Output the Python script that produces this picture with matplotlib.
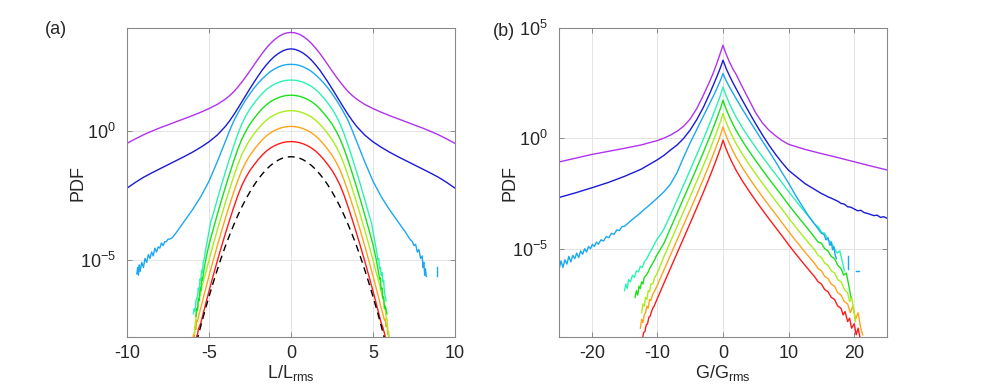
import matplotlib.pyplot as plt
import numpy as np

plt.rcParams['font.family'] = ['Liberation Sans', 'DejaVu Sans']
plt.rcParams['mathtext.fontset'] = 'custom'
plt.rcParams['mathtext.rm'] = 'Liberation Sans'
plt.rcParams['mathtext.it'] = 'Liberation Sans:italic'
plt.rcParams['font.size'] = 13

# colours, bottom curve (red) to top curve (purple)
colors = ["#ff1a1a", "#ffa31a", "#a8ee1a", "#1ae01a", "#2af2b4", "#1aa8f2", "#1a1ad9", "#b033ee"]

# ------------------------------------------------------------------ panel (a)
# all values are log10(PDF)

# shared core shape of the five lower curves (relative to their peak)
shapeA_x = np.arange(-5.5, 5.51, 0.25)
shapeA = [-7.05, -6.42, -5.81, -5.22, -4.65, -4.10, -3.57, -3.06, -2.57, -2.11, -1.71,
          -1.39, -1.12, -0.90, -0.70, -0.52, -0.37, -0.25, -0.16, -0.09, -0.04, -0.01,
          0.0,
          -0.01, -0.04, -0.09, -0.16, -0.25, -0.37, -0.52, -0.70, -0.90, -1.12, -1.39,
          -1.71, -2.11, -2.57, -3.06, -3.57, -4.10, -4.65, -5.22, -5.81, -6.42, -7.05]
# peak levels (curves shifted apart) and core extent of each
peakA = [-0.41, 0.18, 0.79, 1.39, 1.98]
coreA = [5.5, 5.5, 5.25, 5.0, 4.75]

# noisy ends of the five lower curves
tailA_left = [
    ([-5.8, -5.75, -5.7, -5.65, -5.6], [-8.3, -7.95, -7.9, -7.7, -7.62]),
    ([-5.97, -5.95, -5.9, -5.85, -5.8, -5.75, -5.7, -5.6], [-8.3, -7.9, -8.0, -7.6, -7.7, -7.35, -7.4, -7.1]),
    ([-5.9, -5.85, -5.8, -5.75, -5.7, -5.65, -5.6, -5.5, -5.4], [-7.9, -7.5, -7.3, -7.0, -6.95, -6.6, -6.55, -6.25, -5.95]),
    ([-5.8, -5.75, -5.7, -5.65, -5.6, -5.55, -5.5, -5.45, -5.4, -5.3, -5.2, -5.1],
     [-7.2, -6.9, -6.95, -6.5, -6.6, -6.1, -6.2, -5.7, -5.8, -5.35, -5.0, -4.7]),
    ([-5.95, -5.9, -5.85, -5.8, -5.7, -5.65, -5.6, -5.55, -5.5, -5.45, -5.4, -5.35, -5.3, -5.2, -5.1, -5.0, -4.9],
     [-7.1, -6.9, -7.0, -6.6, -6.4, -6.1, -6.2, -5.75, -5.8, -5.4, -5.5, -5.05, -5.0, -4.6, -4.25, -3.9, -3.55]),
]
tailA_right = [
    ([5.6, 5.65, 5.7, 5.75, 5.8], [-7.62, -7.75, -7.85, -8.0, -8.3]),
    ([5.6, 5.7, 5.75, 5.8, 5.85, 5.9, 5.95, 6.0], [-7.1, -7.35, -7.3, -7.6, -7.5, -7.9, -7.8, -8.3]),
    ([5.4, 5.5, 5.6, 5.65, 5.7, 5.75, 5.8, 5.85, 5.9, 5.95], [-5.95, -6.25, -6.5, -6.55, -6.85, -6.9, -7.2, -7.3, -7.7, -8.0]),
    ([5.1, 5.2, 5.3, 5.4, 5.45, 5.5, 5.55, 5.6, 5.65, 5.7, 5.75, 5.85],
     [-4.7, -5.0, -5.35, -5.75, -5.7, -6.15, -6.1, -6.5, -6.45, -6.9, -6.8, -7.1]),
    ([4.9, 5.0, 5.1, 5.2, 5.3, 5.35, 5.4, 5.45, 5.5, 5.55, 5.6, 5.65, 5.7, 5.8],
     [-3.55, -3.9, -4.25, -4.6, -5.0, -4.95, -5.35, -5.3, -5.6, -5.5, -5.85, -5.8, -6.3, -6.6]),
]

# Gaussian reference (dashed)
gaussA_x = np.arange(-5.75, 5.76, 0.25)
gaussA = [-8.18, -7.57, -6.98, -6.43, -5.90, -5.40, -4.92, -4.47, -4.05, -3.66, -3.29, -2.95,
          -2.64, -2.36, -2.10, -1.87, -1.67, -1.49, -1.34, -1.22, -1.12, -1.05, -1.01,
          -1.0,
          -1.01, -1.05, -1.12, -1.22, -1.34, -1.49, -1.67, -1.87, -2.10, -2.36, -2.64,
          -2.95, -3.29, -3.66, -4.05, -4.47, -4.92, -5.40, -5.90, -6.43, -6.98, -7.57, -8.18]

# wide curves of panel (a)
wideA_x = [-10, -9.5, -9, -8.5, -8, -7.5, -7, -6.5, -6, -5.5, -5, -4.5,
           -4, -3.75, -3.5, -3.25, -3, -2.75, -2.5, -2.25, -2, -1.75, -1.5, -1.25, -1, -0.75, -0.5, -0.25,
           0,
           0.25, 0.5, 0.75, 1, 1.25, 1.5, 1.75, 2, 2.25, 2.5, 2.75, 3, 3.25, 3.5, 3.75, 4,
           4.5, 5, 5.5, 6, 6.5, 7, 7.5, 8, 8.5, 9, 9.5, 10]
purpleA = [-0.48, -0.31, -0.15, -0.01, 0.12, 0.24, 0.36, 0.48, 0.60, 0.73, 0.87, 1.03,
           1.24, 1.37, 1.52, 1.70, 1.90, 2.11, 2.34, 2.57, 2.80, 3.02, 3.22, 3.40, 3.55, 3.67, 3.76, 3.81,
           3.83,
           3.81, 3.76, 3.67, 3.55, 3.40, 3.22, 3.02, 2.80, 2.57, 2.34, 2.11, 1.90, 1.70, 1.52, 1.37, 1.24,
           1.03, 0.87, 0.73, 0.60, 0.48, 0.36, 0.24, 0.12, -0.01, -0.15, -0.31, -0.48]
blueA = [-2.22, -2.00, -1.80, -1.63, -1.47, -1.31, -1.15, -0.99, -0.82, -0.63, -0.42, -0.16,
         0.18, 0.39, 0.62, 0.87, 1.13, 1.39, 1.65, 1.90, 2.14, 2.37, 2.57, 2.75, 2.90, 3.02, 3.11, 3.17,
         3.19,
         3.17, 3.11, 3.02, 2.90, 2.75, 2.57, 2.37, 2.14, 1.90, 1.65, 1.39, 1.13, 0.87, 0.62, 0.39, 0.18,
         -0.16, -0.42, -0.63, -0.82, -0.99, -1.15, -1.31, -1.47, -1.63, -1.80, -2.00, -2.22]

skyA_x = [-7, -6.5, -6, -5.5, -5, -4.5,
          -4, -3.75, -3.5, -3.25, -3, -2.75, -2.5, -2.25, -2, -1.75, -1.5, -1.25, -1, -0.75, -0.5, -0.25,
          0,
          0.25, 0.5, 0.75, 1, 1.25, 1.5, 1.75, 2, 2.25, 2.5, 2.75, 3, 3.25, 3.5, 3.75, 4,
          4.5, 5, 5.5, 6, 6.5, 7]
skyA = [-3.95, -3.50, -3.05, -2.55, -1.95, -1.20,
        -0.40, 0.0, 0.38, 0.68, 0.96, 1.22, 1.45, 1.67, 1.86, 2.03, 2.18, 2.31, 2.41, 2.49, 2.55, 2.58,
        2.59,
        2.58, 2.55, 2.49, 2.41, 2.31, 2.18, 2.03, 1.86, 1.67, 1.45, 1.22, 0.96, 0.68, 0.38, 0.0, -0.40,
        -1.20, -1.95, -2.55, -3.05, -3.50, -3.95]
skyA_left_x = [-9.4, -9.35, -9.3, -9.25, -9.2, -9.1, -9.0, -8.9, -8.8, -8.7, -8.6, -8.5,
               -8.4, -8.3, -8.2, -8.1, -8.0, -7.9, -7.8, -7.7, -7.6, -7.5, -7.4, -7.25]
skyA_left = [-5.55, -5.3, -5.6, -5.2, -5.45, -5.1, -5.3, -4.95, -5.1, -4.8, -4.95, -4.7,
             -4.85, -4.55, -4.7, -4.5, -4.55, -4.35, -4.45, -4.3, -4.3, -4.2, -4.2, -4.15]
skyA_right_x = [7.25, 7.4, 7.5, 7.6, 7.7, 7.8, 7.9, 8.0, 8.05, 8.1, 8.15, 8.2, 8.25]
skyA_right = [-4.2, -4.3, -4.45, -4.4, -4.7, -4.6, -4.95, -4.85, -5.3, -5.1, -5.6, -5.35, -5.65]
skyA_frag_x = [8.88, 8.88]
skyA_frag = [-5.3, -5.65]

# ------------------------------------------------------------------ panel (b)
# shared shape of the five lower curves (lowest, red, curve)
shapeB_x = [-12, -11.5, -11, -10, -9, -8, -7, -6, -5, -4, -3, -2, -1.5, -1, -0.5, -0.25,
            0, 0.25, 0.5, 1, 1.5, 2, 3, 4, 5, 6, 7, 8, 9, 10, 11, 12, 13, 14, 15]
shapeB = [-8.8, -8.3, -7.95, -7.25, -6.56, -5.88, -5.2, -4.52, -3.84, -3.15, -2.45, -1.72,
          -1.34, -0.95, -0.55, -0.33, -0.08, -0.30, -0.50, -0.85, -1.16, -1.45, -1.95, -2.40,
          -2.83, -3.24, -3.64, -4.03, -4.42, -4.82, -5.20, -5.57, -5.93, -6.28, -6.63]
offsetB = [0.0, 0.6, 1.21, 1.81, 2.41]
coreB = [(-10.25, 14.2), (-10.25, 14.2), (-9.5, 14.0), (-9.0, 13.5), (-8.5, 13.0)]

tailB_left = [
    ([-12.3, -12.1, -11.9, -11.7, -11.5, -11.3, -11.1, -10.9, -10.7, -10.5],
     [-9.1, -8.8, -8.75, -8.45, -8.4, -8.1, -8.05, -7.85, -7.7, -7.6]),
    ([-12.6, -12.4, -12.2, -12.0, -11.8, -11.6, -11.4, -11.2, -11.0, -10.7, -10.4],
     [-8.6, -8.2, -8.35, -8.0, -7.9, -7.6, -7.7, -7.3, -7.35, -7.05, -6.9]),
    ([-12.4, -12.2, -12.0, -11.8, -11.6, -11.4, -11.2, -11.0, -10.7, -10.4, -10.1, -9.8],
     [-7.9, -7.5, -7.6, -7.2, -7.3, -6.9, -6.95, -6.6, -6.6, -6.3, -6.15, -5.95]),
    ([-13.4, -13.2, -13.0, -12.8, -12.6, -12.4, -12.2, -12.0, -11.7, -11.4, -11.1, -10.8, -10.5, -10.2, -9.9, -9.5],
     [-7.2, -6.9, -7.1, -6.7, -6.8, -6.5, -6.6, -6.3, -6.2, -6.05, -5.85, -5.7, -5.55, -5.35, -5.2, -5.0]),
    ([-15.0, -14.8, -14.6, -14.4, -14.1, -13.8, -13.5, -13.2, -12.9, -12.6, -12.3, -12.0, -11.6,
      -11.2, -10.8, -10.4, -10.0, -9.5, -9.0],
     [-6.9, -6.6, -6.8, -6.4, -6.5, -6.2, -6.3, -6.0, -6.05, -5.8, -5.85, -5.6, -5.45,
      -5.2, -5.0, -4.75, -4.55, -4.35, -4.1]),
]
tailB_right = [
    ([14.5, 15, 15.5, 16, 16.5, 17, 17.5, 18, 18.3, 18.6, 19, 19.3, 19.6, 20, 20.3, 20.6, 21],
     [-6.5, -6.6, -6.85, -6.95, -7.2, -7.3, -7.6, -7.7, -8.0, -7.85, -8.3, -8.15, -8.6, -8.4, -8.9, -8.6, -9.2]),
    ([14.5, 15, 15.5, 16, 16.5, 17, 17.5, 18, 18.5, 19, 19.4, 19.8, 20.2, 20.6, 21, 21.3],
     [-5.9, -6.0, -6.25, -6.35, -6.6, -6.7, -7.0, -7.1, -7.4, -7.5, -7.9, -7.6, -8.2, -7.9, -8.6, -8.9]),
    ([14.5, 15, 15.5, 16, 16.5, 17, 17.5, 18, 18.5, 19, 19.3, 19.6, 20, 20.2],
     [-5.3, -5.4, -5.65, -5.75, -6.0, -6.1, -6.4, -6.5, -6.85, -7.0, -7.4, -7.2, -7.9, -8.3]),
    ([14, 14.5, 15, 15.5, 16, 16.5, 17, 17.5, 18, 18.4, 18.8, 19.2, 19.5],
     [-4.5, -4.7, -4.75, -5.0, -5.1, -5.35, -5.45, -5.75, -5.9, -6.2, -6.1, -6.7, -7.2]),
    ([13.5, 14, 14.5, 15, 15.5, 16, 16.5, 17, 17.4, 17.8, 18.2, 18.5],
     [-3.7, -3.9, -4.0, -4.25, -4.3, -4.6, -4.7, -5.0, -5.2, -5.1, -5.6, -6.0]),
]

wideB_x = [-25, -22.5, -20, -17.5, -15, -12.5, -10, -9, -8, -7, -6, -5, -4, -3, -2, -1.5, -1,
           -0.5, -0.25, 0, 0.25, 0.5, 1, 1.5, 2, 3, 4, 5, 6, 7, 8, 9, 10, 12.5, 15]
purpleB = [-1.07, -0.90, -0.73, -0.59, -0.45, -0.30, -0.10, 0.01, 0.15, 0.32, 0.55, 0.88, 1.35,
           1.95, 2.60, 2.95, 3.35, 3.78, 4.00, 4.22, 4.00, 3.80, 3.45, 3.15, 2.90, 2.30, 1.72,
           1.15, 0.70, 0.37, 0.12, -0.10, -0.27, -0.50, -0.69]
purpleB_end_x = [17.5, 20, 22.5, 25]
purpleB_end = [-0.87, -1.06, -1.25, -1.43]
blueB = [-2.68, -2.47, -2.24, -2.00, -1.72, -1.40, -0.97, -0.77, -0.53, -0.30, 0.0, 0.38, 0.85,
         1.40, 2.05, 2.40, 2.75, 3.12, 3.32, 3.54, 3.35, 3.15, 2.83, 2.53, 2.25, 1.70, 1.17,
         0.65, 0.16, -0.30, -0.72, -1.10, -1.45, -2.05, -2.50]
blueB_end_x = [15.5, 16, 16.5, 17, 17.5, 18, 18.5, 19, 19.5, 20, 20.5, 21, 21.5, 22, 22.5,
               23, 23.5, 24, 24.5, 25]
blueB_end = [-2.57, -2.65, -2.71, -2.78, -2.85, -2.95, -2.98, -3.1, -3.12, -3.2, -3.28, -3.26,
             -3.36, -3.4, -3.45, -3.5, -3.48, -3.58, -3.55, -3.62]

skyB_x = [-12, -11, -10, -9, -8, -7, -6, -5, -4, -3, -2, -1.5, -1, -0.5, -0.25, 0, 0.25, 0.5,
          1, 1.5, 2, 3, 4, 5, 6, 7, 8, 9, 10, 11, 12, 13, 14, 15]
skyB = [-3.22, -2.97, -2.70, -2.42, -2.07, -1.55, -0.85, -0.20, 0.40, 1.00, 1.60, 1.90, 2.22,
        2.55, 2.73, 2.94, 2.76, 2.60, 2.32, 2.06, 1.80, 1.30, 0.82, 0.35, -0.12, -0.58, -1.05,
        -1.55, -2.03, -2.55, -3.03, -3.50, -3.90, -4.30]
skyB_left_x = [-25, -24.7, -24.4, -24.1, -23.8, -23.5, -23.2, -22.9, -22.6, -22.3, -22.0, -21.7,
               -21.4, -21.1, -20.8, -20.5, -20.2, -19.9, -19.6, -19.3, -19.0, -18.6, -18.2, -17.8,
               -17.4, -17.0, -16.6, -16.2, -15.8, -15.4, -15.0, -14.5, -14.0, -13.5, -13.0, -12.5]
skyB_left = [-5.95, -5.55, -5.85, -5.5, -5.7, -5.35, -5.6, -5.3, -5.45, -5.2, -5.4, -5.1,
             -5.25, -5.0, -5.15, -4.9, -5.0, -4.8, -4.9, -4.7, -4.8, -4.6, -4.65, -4.45,
             -4.5, -4.3, -4.35, -4.15, -4.18, -4.0, -3.98, -3.85, -3.72, -3.6, -3.48, -3.35]
skyB_right_x = [15.4, 15.7, 16.0, 16.3, 16.5, 16.7, 16.9, 17.1, 17.3]
skyB_right = [-4.35, -4.6, -4.5, -4.85, -4.7, -5.05, -4.9, -5.3, -5.45]
skyB_frag = [([19.1, 19.1], [-5.35, -5.9]), ([20.3, 20.8], [-6.0, -6.0])]


def to_pdf(*parts):
    xs = np.concatenate([np.asarray(p[0], float) for p in parts])
    ys = np.concatenate([np.asarray(p[1], float) for p in parts])
    return xs, 10.0 ** ys


def style_axes(ax, xlim, xticks, ylim, yexps, xlabel):
    ax.set_yscale('log')
    ax.set_xlim(xlim)
    ax.set_ylim(ylim)
    ax.set_xticks(xticks)
    ax.set_xticklabels([f"{t:g}" for t in xticks])
    ax.set_yticks([10.0 ** e for e in yexps])
    ax.set_yticklabels([f"$10^{{{e}}}$" for e in yexps])
    ax.minorticks_off()
    ax.grid(True, color='#e4e4e4', lw=0.7)
    ax.set_axisbelow(True)
    ax.tick_params(direction='in', length=3.5, width=0.6, top=True, right=True,
                   color='#7a7a7a', labelcolor='#262626', labelsize=13)
    ax.tick_params(axis='y', pad=8)
    ax.tick_params(axis='x', pad=6)
    for s in ax.spines.values():
        s.set_color('#8a8a8a')
        s.set_linewidth(0.8)
    ax.set_xlabel(xlabel, color='#262626')
    ax.xaxis.set_label_coords(0.5, -0.085)
    ax.set_ylabel('PDF', color='#262626')
    ax.yaxis.set_label_coords(-0.124, 0.5)


fig = plt.figure(figsize=(9.81, 3.90), dpi=100)
axA = fig.add_axes([127 / 981, 53 / 390, 328 / 981, 309 / 390])
axB = fig.add_axes([559 / 981, 53 / 390, 328 / 981, 309 / 390])
lw = 1.0

# panel (a)
sx = np.asarray(shapeA_x)
sy = np.asarray(shapeA)
for k in range(5):
    m = np.abs(sx) <= coreA[k] + 1e-9
    x, y = to_pdf(tailA_left[k], (sx[m], sy[m] + peakA[k]), tailA_right[k])
    axA.plot(x, y, color=colors[k], lw=lw)
x, y = to_pdf((skyA_left_x, skyA_left), (skyA_x, skyA), (skyA_right_x, skyA_right))
axA.plot(x, y, color=colors[5], lw=lw)
x, y = to_pdf((skyA_frag_x, skyA_frag))
axA.plot(x, y, color=colors[5], lw=lw)
x, y = to_pdf((wideA_x, blueA))
axA.plot(x, y, color=colors[6], lw=lw)
x, y = to_pdf((wideA_x, purpleA))
axA.plot(x, y, color=colors[7], lw=lw)
x, y = to_pdf((gaussA_x, gaussA))
axA.plot(x, y, color='black', lw=lw, linestyle=(0, (5, 3.5)))
style_axes(axA, (-10, 10), [-10, -5, 0, 5, 10], (1e-8, 1e4), [-5, 0], r'L/L$_\mathrm{rms}$')

# panel (b)
bx = np.asarray(shapeB_x)
by = np.asarray(shapeB)
for k in range(5):
    lo, hi = coreB[k]
    m = (bx >= lo) & (bx <= hi)
    x, y = to_pdf(tailB_left[k], (bx[m], by[m] + offsetB[k]), tailB_right[k])
    axB.plot(x, y, color=colors[k], lw=lw)
x, y = to_pdf((skyB_left_x, skyB_left), (skyB_x, skyB), (skyB_right_x, skyB_right))
axB.plot(x, y, color=colors[5], lw=lw)
for fr in skyB_frag:
    x, y = to_pdf(fr)
    axB.plot(x, y, color=colors[5], lw=lw)
x, y = to_pdf((wideB_x, blueB), (blueB_end_x, blueB_end))
axB.plot(x, y, color=colors[6], lw=lw)
x, y = to_pdf((wideB_x, purpleB), (purpleB_end_x, purpleB_end))
axB.plot(x, y, color=colors[7], lw=lw)
style_axes(axB, (-25, 25), [-20, -10, 0, 10, 20], (1e-9, 1e5), [-5, 0, 5], r'G/G$_\mathrm{rms}$')

fig.text(45 / 981, 1 - 30 / 390, '(a)', fontsize=13, va='center', color='#262626')
fig.text(493 / 981, 1 - 31 / 390, '(b)', fontsize=13, va='center', color='#262626')

fig.savefig('out.png', dpi=100)
